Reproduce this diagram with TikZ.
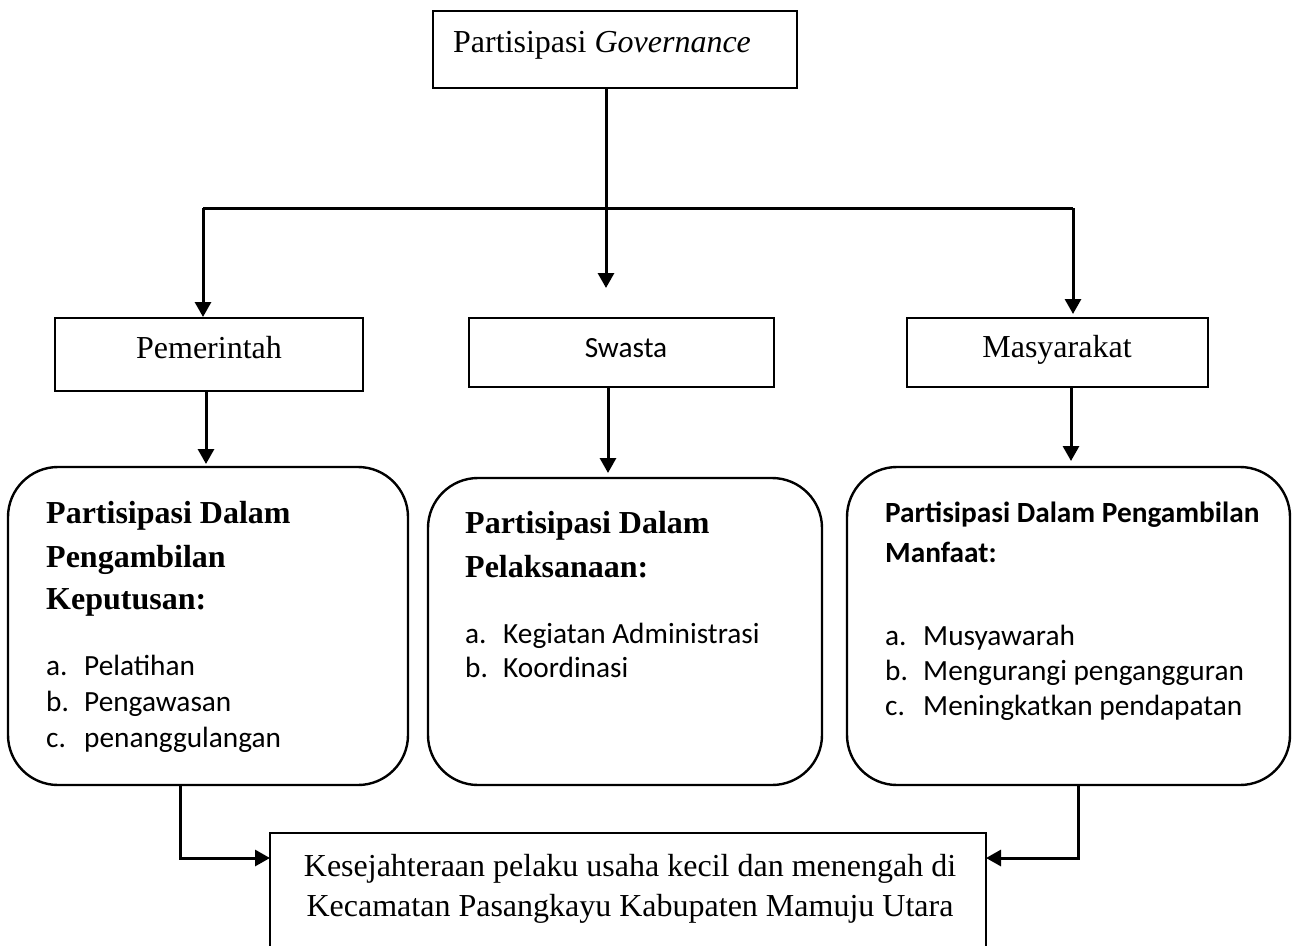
\documentclass[tikz,border=0pt]{standalone}
\usepackage{fontspec}
\setmainfont{Liberation Serif}
\newfontfamily\carl{Carlito}
\usetikzlibrary{arrows.meta}
\newcommand\tms{\fontsize{32}{38}\selectfont}
\newcommand\clb{\carl\fontsize{29.3}{35}\selectfont}
\begin{document}
\begin{tikzpicture}[x=1pt,y=-1pt,
  box/.style={draw, line width=1.9pt, inner sep=0pt},
  rbox/.style={draw, line width=2.4pt, rounded corners=50pt, inner sep=0pt},
  conn/.style={line width=3pt},
  arr/.style={line width=3pt, -{Triangle[length=15pt,width=16pt]}},
  txt/.style={anchor=base west, inner sep=0pt},
  ctxt/.style={anchor=base, inner sep=0pt}]
\useasboundingbox (0,0) rectangle (1292,945);
\clip (0,0) rectangle (1292,945);
% top box
\node[box, minimum width=364pt, minimum height=77pt] (top) at (615,49.5) {};
\node[txt] (toptxt) at (453,52) {\tms Partisipasi \textit{Governance}};
% second row
\node[box, minimum width=308pt, minimum height=73pt] (pem) at (209,354.5) {};
\node[ctxt] (pemtxt) at (209,358) {\tms Pemerintah};
\node[box, minimum width=305pt, minimum height=69pt] (swa) at (621.5,352.5) {};
\node[ctxt] (swatxt) at (626,357) {\clb Swasta};
\node[box, minimum width=301pt, minimum height=69pt] (mas) at (1057.5,352.5) {};
\node[ctxt] (mastxt) at (1057,357) {\tms Masyarakat};
% rounded boxes
\node[rbox, minimum width=400pt, minimum height=318pt] (kep) at (208,626) {};
\node[rbox, minimum width=394pt, minimum height=307pt] (pel) at (625,631.5) {};
\node[rbox, minimum width=443pt, minimum height=318pt] (man) at (1068.5,626) {};
% left box text
\node[txt] (k1) at (46,523) {\tms\bfseries Partisipasi Dalam};
\node[txt] (k2) at (46,567) {\tms\bfseries Pengambilan};
\node[txt] (k3) at (46,609) {\tms\bfseries Keputusan:};
\node[txt] (ka) at (46,675) {\clb a.};
\node[txt] (kai) at (84,675) {\clb Pelatihan};
\node[txt] (kb) at (46,711) {\clb b.};
\node[txt] (kbi) at (84,711) {\clb Pengawasan};
\node[txt] (kc) at (46,747) {\clb c.};
\node[txt] (kci) at (84,747) {\clb penanggulangan};
% middle box text
\node[txt] (p1) at (465,533) {\tms\bfseries Partisipasi Dalam};
\node[txt] (p2) at (465,577) {\tms\bfseries Pelaksanaan:};
\node[txt] (pa) at (465,643) {\clb a.};
\node[txt] (pai) at (503,643) {\clb Kegiatan Administrasi};
\node[txt] (pb) at (465,677) {\clb b.};
\node[txt] (pbi) at (503,677) {\clb Koordinasi};
% right box text
\node[txt] (m1) at (885,522) {\clb\bfseries Partisipasi Dalam Pengambilan};
\node[txt] (m2) at (885,562) {\clb\bfseries Manfaat:};
\node[txt] (ma) at (885,645) {\clb a.};
\node[txt] (mai) at (923,645) {\clb Musyawarah};
\node[txt] (mb) at (885,680) {\clb b.};
\node[txt] (mbi) at (923,680) {\clb Mengurangi pengangguran};
\node[txt] (mc) at (885,715) {\clb c.};
\node[txt] (mci) at (923,715) {\clb Meningkatkan pendapatan};
% bottom box
\node[box, line width=2.4pt, minimum width=716pt, minimum height=140pt] (kes) at (628,903) {};
\node[ctxt] (kes1) at (630,876) {\tms Kesejahteraan pelaku usaha kecil dan menengah di};
\node[ctxt] (kes2) at (630,916) {\tms Kecamatan Pasangkayu Kabupaten Mamuju Utara};
% connectors
\coordinate (t0) at (606,88);
\coordinate (hL) at (203,208);
\coordinate (hR) at (1073,208);
\coordinate (pemIn) at (203,317);
\coordinate (swaIn) at (606,288);
\coordinate (masIn) at (1073,314);
\draw[arr] (t0) -- (swaIn);
\draw[conn] (hL) -- (hR);
\draw[arr] (hL) -- (pemIn);
\draw[arr] (hR) -- (masIn);
\coordinate (pemOut) at (206,391);
\coordinate (kepIn) at (206,464);
\coordinate (swaOut) at (608,387);
\coordinate (pelIn) at (608,473);
\coordinate (masOut) at (1071,387);
\coordinate (manIn) at (1071,461);
\draw[arr] (pemOut) -- (kepIn);
\draw[arr] (swaOut) -- (pelIn);
\draw[arr] (masOut) -- (manIn);
\coordinate (kepOut) at (180,785);
\coordinate (kesL) at (270,858);
\coordinate (manOut) at (1078,785);
\coordinate (kesR) at (986,858);
\draw[arr] (kepOut) |- (kesL);
\draw[arr] (manOut) |- (kesR);
\end{tikzpicture}
\end{document}
